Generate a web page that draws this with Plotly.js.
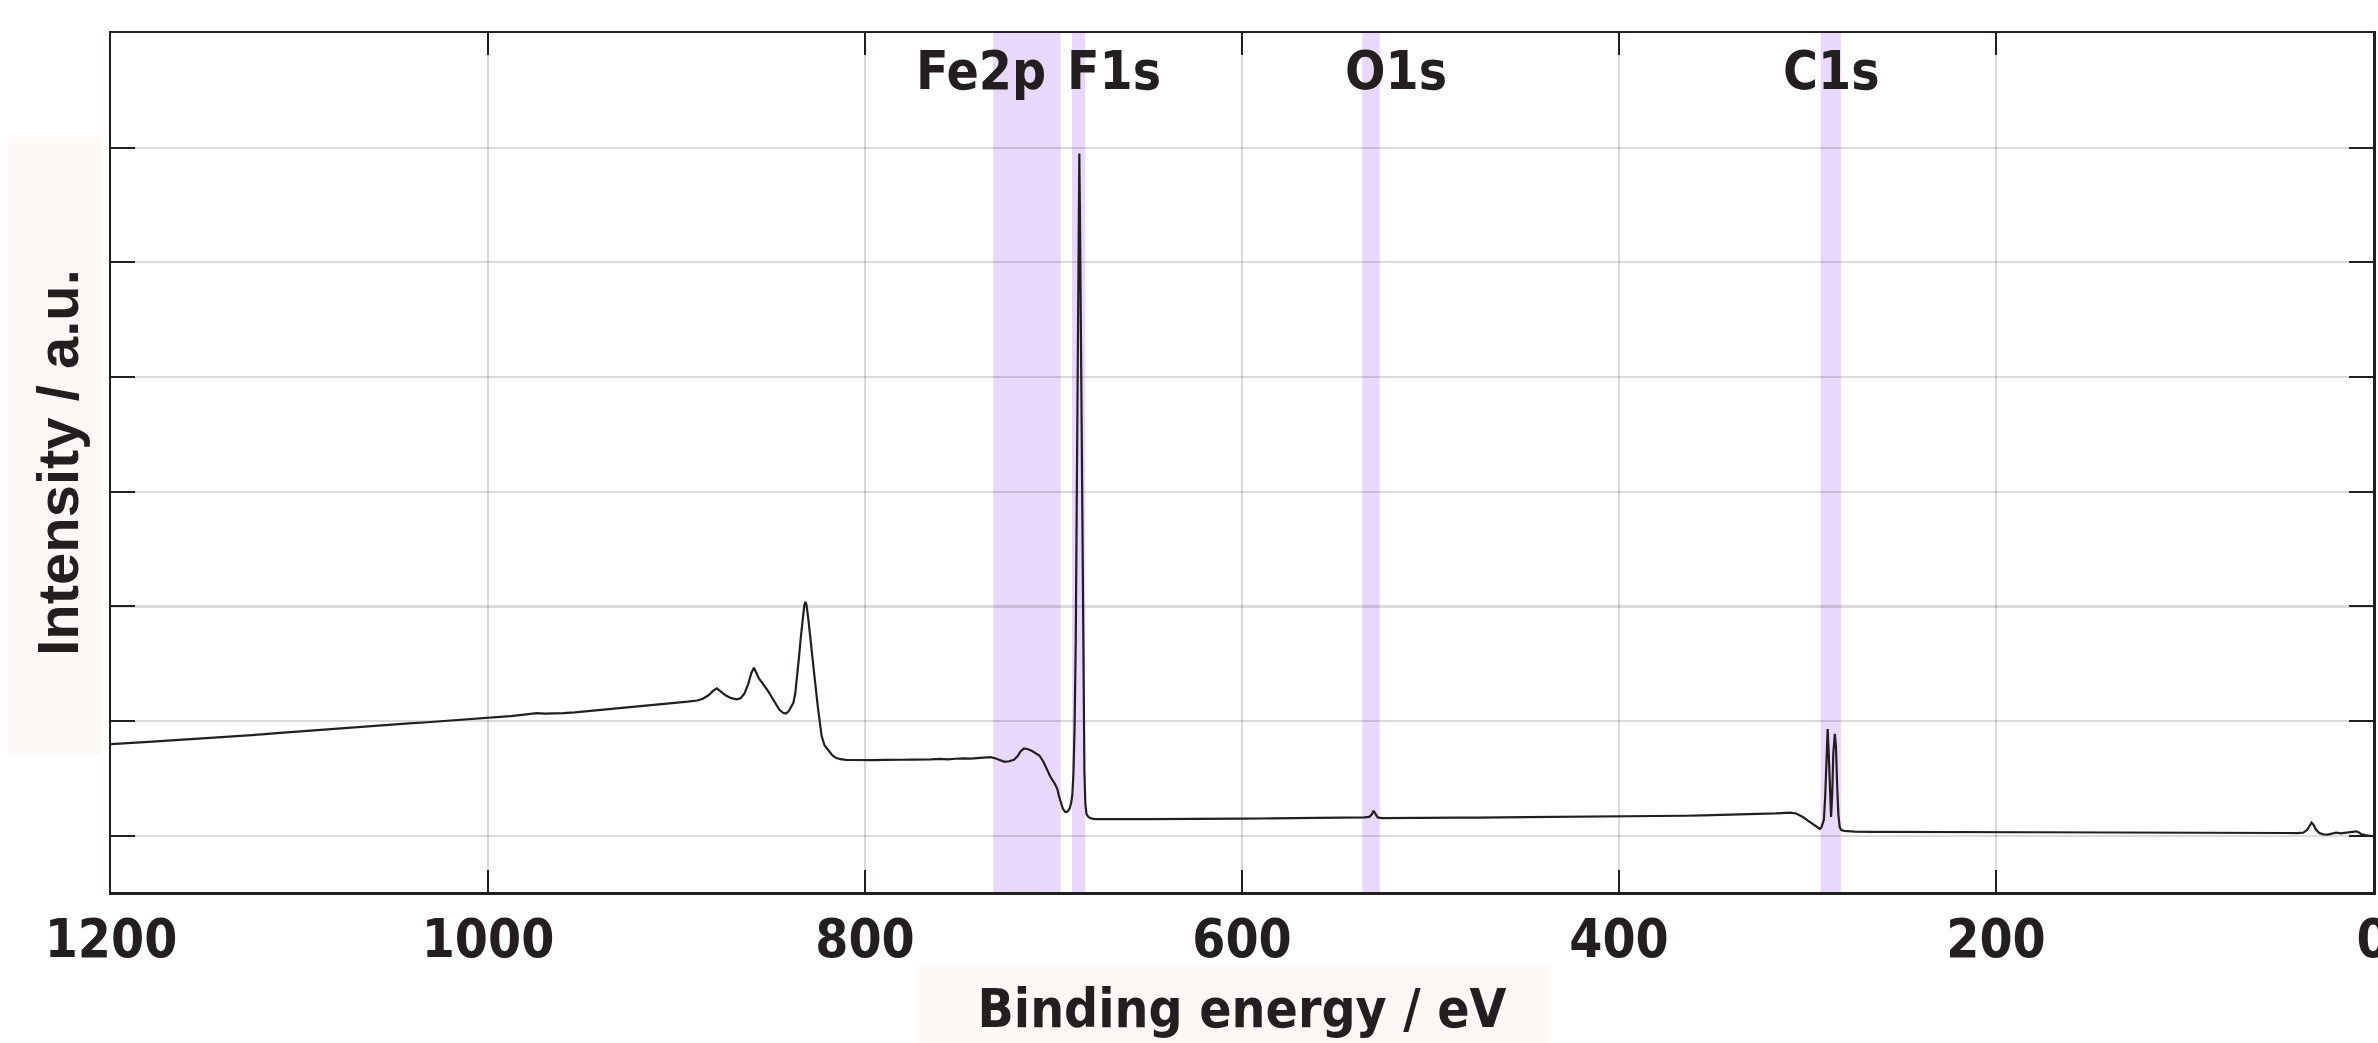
<!DOCTYPE html>
<html>
<head>
<meta charset="utf-8">
<script src="https://cdn.plot.ly/plotly-3.0.1.min.js"></script>
<style>
html,body{margin:0;padding:0;background:#ffffff;}
#chart{width:2378px;height:1043px;}
</style>
</head>
<body>
<div id="chart"></div>
<script>
// ---- data ----
const bindingEnergy = [
1200,1192,1185,1178,1170,1162,1155,1150,1143,1136,1128,1120,1112,1104,1096,1088,1080,1072,1064,1056,1048,1042,1034,1026,1018,1010,1004,1000,
994,988,982,977,974,970,965,960,954,948,941,934,927,920,913,907,900,894,889,886,883,880.5,878.6,876.5,874,871,868,866,864,862,860.3,858.9,
857.6,856.2,854.6,853,851.4,849.5,847.5,845.5,843.5,842,840.5,839.2,838,837,836,835,834,833,832.2,831.6,831,830,829,827.7,826.4,825,823.8,823,
821.5,819.6,817.5,815.5,813,810,805,800,795,790,785,780,775,770,765,760,756,752,748,744,740,736,733.5,731,728,726,723.5,721,719,717.5,715.7,
713.5,711.6,709.5,707.5,705.5,703.5,701.5,699.5,698,697,696,695,694,693.2,692.3,691.4,690.6,690,689.4,688.8,688.2,687.6,687,686.6,686.3,686,
685.6,685.1,684.6,684.1,683.6,683.1,682.5,681.5,680,678,675,670,660,650,640,630,620,610,600,590,580,570,560,550,540,535,532.5,531.2,530.2,
529.2,528,526,522,515,505,495,485,475,465,455,445,435,425,415,405,395,385,375,365,355,345,335,325,317,312,309,306,304,302,300,298,296,294.3,
293.4,292.6,292,291.3,290.6,290,289.3,288.7,288.1,287.5,286.9,286.3,285.5,284.9,284.3,283.6,282.9,282.1,280.5,279,275,265,250,235,220,200,
180,160,140,120,100,80,60,50,45,40,37,35,33.5,32.6,31.5,30.3,28.5,26.3,24,22,19.6,17,14.3,11.5,9,7.5,6.4,4,2,0
];
const intensity = [
0.800,0.806,0.815,0.822,0.830,0.838,0.845,0.850,0.858,0.866,0.876,0.884,0.895,0.905,0.918,0.928,0.938,0.948,0.956,0.965,0.972,0.980,0.988,0.997,1.008,1.018,1.025,1.030,
1.036,1.044,1.054,1.064,1.070,1.066,1.066,1.069,1.076,1.085,1.094,1.105,1.116,1.126,1.136,1.148,1.160,1.170,1.180,1.195,1.225,1.265,1.285,1.260,1.225,1.200,1.190,1.200,1.240,1.320,1.420,1.465,
1.420,1.370,1.335,1.300,1.262,1.210,1.150,1.100,1.072,1.066,1.085,1.120,1.160,1.240,1.380,1.560,1.740,1.900,2.010,2.040,2.010,1.880,1.710,1.520,1.330,1.120,0.960,0.870,
0.790,0.745,0.705,0.680,0.668,0.662,0.660,0.657,0.660,0.662,0.660,0.663,0.665,0.664,0.667,0.670,0.666,0.672,0.676,0.673,0.678,0.682,0.686,0.676,0.655,0.645,0.650,0.663,0.695,0.735,0.762,
0.755,0.742,0.722,0.700,0.650,0.580,0.510,0.460,0.410,0.340,0.275,0.235,0.212,0.208,0.215,0.240,0.290,0.360,0.550,0.950,1.700,2.900,4.300,5.400,5.950,5.500,
4.600,3.400,2.200,1.200,0.550,0.280,0.190,0.165,0.152,0.146,0.145,0.148,0.146,0.146,0.148,0.147,0.149,0.150,0.150,0.151,0.152,0.153,0.154,0.156,0.158,0.160,0.165,0.185,0.218,
0.185,0.160,0.154,0.155,0.156,0.157,0.157,0.158,0.159,0.160,0.160,0.161,0.162,0.163,0.164,0.166,0.168,0.170,0.172,0.175,0.178,0.181,0.185,0.190,0.195,0.200,0.202,0.195,0.180,0.160,0.135,0.110,0.088,0.064,
0.060,0.075,0.100,0.140,0.350,0.650,0.930,0.700,0.380,0.165,0.360,0.720,0.890,0.780,0.450,0.180,0.075,0.050,0.043,0.040,0.037,0.035,0.034,0.033,0.032,0.031,
0.031,0.030,0.030,0.029,0.029,0.028,0.028,0.027,0.024,0.024,0.028,0.050,0.090,0.115,0.095,0.055,0.025,0.013,0.011,0.016,0.027,0.022,0.027,0.030,0.039,0.030,0.016,0.006,0.001,-0.004
];
const xTickValues = [1200, 1000, 800, 600, 400, 200, 0];
const xTickLabels = ["1200", "1000", "800", "600", "400", "200", "0"];
const yTickValues = [0, 1, 2, 3, 4, 5, 6, 7];
const peakNames = ["Fe2p", "F1s", "O1s", "C1s"];
const bandHigh = [732.0, 690.2, 536.2, 293.0];
const bandLow = [696.2, 683.2, 526.9, 282.3];
const labelEnergy = [738.3, 668.0, 518.2, 287.5];

// ---- styling ----
const INK = '#231f20';
const COND = '"DejaVu Sans Condensed", "DejaVu Sans", sans-serif';
const BAND = '#ead7fc';
const BOX = '#fdf9f6';

const shapes = [];
for (let i = 0; i < peakNames.length; i++) {
  shapes.push({type:'rect', xref:'x', yref:'paper', x0:bandHigh[i], x1:bandLow[i], y0:0, y1:1,
    fillcolor:BAND, line:{width:0}, layer:'below'});
}
// light background boxes behind the axis titles
shapes.push({type:'rect', xref:'paper', yref:'paper', x0:-0.0457, x1:-0.0042, y0:0.1594, y1:0.8799,
  fillcolor:BOX, line:{width:0}, layer:'below'});
shapes.push({type:'rect', xref:'paper', yref:'paper', x0:0.3566, x1:0.6360, y0:-0.0848, y1:-0.1761,
  fillcolor:BOX, line:{width:0}, layer:'below'});

const annotations = peakNames.map((name, i) => ({
  text: name, x: labelEnergy[i], xref:'x', y: 0.9567, yref:'paper',
  xanchor:'center', yanchor:'middle', showarrow:false,
  font:{family:COND, size:53, color:INK, weight:700}
}));

const trace = {
  x: bindingEnergy, y: intensity, type:'scatter', mode:'lines',
  line:{color:INK, width:2.2}, hoverinfo:'skip', showlegend:false
};

const layout = {
  width:2378, height:1043,
  margin:{l:111, r:4.5, t:33.4, b:151.2, pad:0},
  paper_bgcolor:'#ffffff', plot_bgcolor:'#ffffff',
  showlegend:false,
  xaxis:{
    range:[1200, 0], tickmode:'array', tickvals:xTickValues, ticktext:xTickLabels,
    ticks:'inside', ticklen:22, tickwidth:2, tickcolor:INK,
    showline:true, linecolor:INK, linewidth:2.5, mirror:'ticks',
    showgrid:true, gridcolor:'rgba(0,0,0,0.15)', gridwidth:1.3, zeroline:false,
    tickfont:{family:COND, size:53, color:INK, weight:700},
    ticklabelstandoff:-1, ticklabeloverflow:'allow',
    title:{text:'Binding energy / eV', font:{family:COND, size:53, color:INK, weight:700}, standoff:22}
  },
  yaxis:{
    range:[-0.49, 7], tickmode:'array', tickvals:yTickValues, showticklabels:false,
    ticks:'inside', ticklen:24, tickwidth:2, tickcolor:INK,
    showline:true, linecolor:INK, linewidth:2.5, mirror:'ticks',
    showgrid:true, gridcolor:'rgba(0,0,0,0.14)', gridwidth:2.2, zeroline:false,
    title:{text:'Intensity / a.u.', font:{family:'"Liberation Sans", Arial, sans-serif', size:58, color:INK, weight:700}, standoff:11}
  },
  shapes: shapes,
  annotations: annotations
};

Plotly.newPlot('chart', [trace], layout, {displayModeBar:false, staticPlot:true});
</script>
</body>
</html>
